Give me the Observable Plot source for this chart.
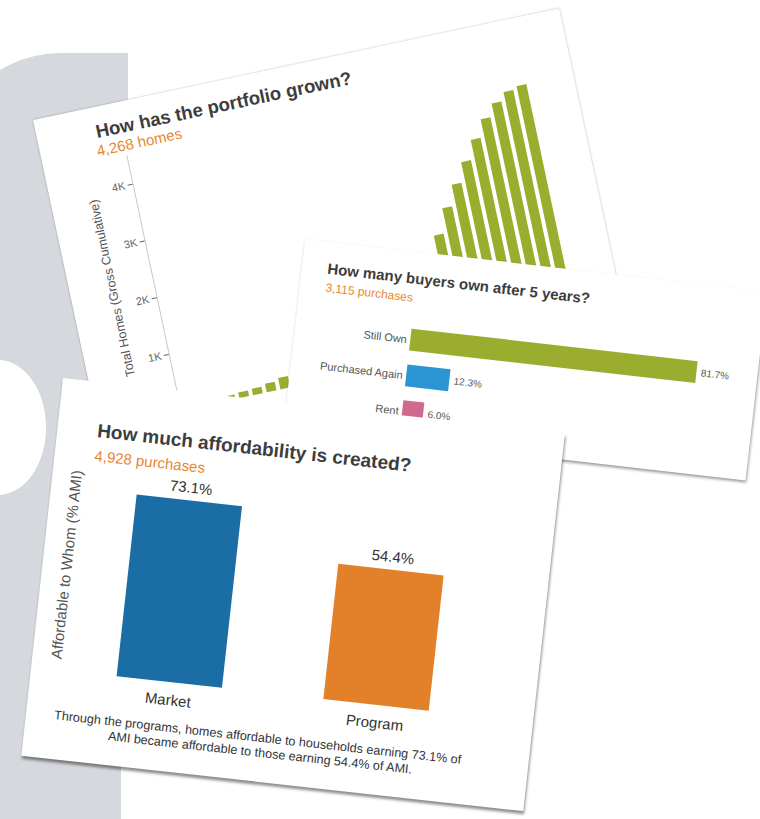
<!DOCTYPE html>
<html>
<head>
<meta charset="utf-8">
<script src="https://cdn.jsdelivr.net/npm/d3@7"></script>
<script src="https://cdn.jsdelivr.net/npm/@observablehq/plot@0.6"></script>
<style>
  html, body { margin: 0; padding: 0; background: #fff; }
  #stage { position: relative; width: 760px; height: 819px; overflow: hidden; background: #fff;
           font-family: "Liberation Sans", Arial, Helvetica, sans-serif; }
  .bgTop { position: absolute; left: -70px; top: 53px; width: 198px; height: 600px; background: #d5d8dc;
           border-top-left-radius: 130px 150px; }
  .bgBot { position: absolute; left: -10px; top: 560px; width: 131px; height: 270px; background: #d5d8dc; }
  .notch { position: absolute; left: -50px; top: 360px; width: 96px; height: 135px; border-radius: 50%; background: #fff; }
  .card { position: absolute; background: #fff; transform-origin: 0 0; }
  .txt { position: absolute; white-space: nowrap; line-height: 1; }
  .plotbox { position: absolute; left: 0; }
  .plotbox svg { overflow: visible; }
</style>
</head>
<body>
<div id="stage">
  <div class="bgTop"></div>
  <div class="bgBot"></div>
  <div class="notch"></div>

  <div class="card" id="card1" style="left:33px;top:120px;width:538px;height:350px;transform:rotate(-12deg);box-shadow:0 0 2px rgba(0,0,0,0.35);">
    <div class="txt" id="t1" style="left:59px;top:15.6px;font-size:18.5px;font-weight:bold;color:#3d3d3d;"></div>
    <div class="txt" id="s1" style="left:56px;top:36px;font-size:15px;color:#e8872f;"></div>
    <div class="plotbox" id="p1" style="top:50px;"></div>
  </div>

  <div class="card" id="card2" style="left:305px;top:239px;width:465px;height:190px;transform:rotate(6.5deg);box-shadow:1px 2px 3px rgba(0,0,0,0.4);">
    <div class="txt" id="t2" style="left:25.7px;top:18.8px;font-size:15px;font-weight:bold;color:#3d3d3d;"></div>
    <div class="txt" id="s2" style="left:26px;top:40.4px;font-size:12px;color:#e8872f;"></div>
    <div class="plotbox" id="p2" style="top:60px;"></div>
  </div>

  <div class="card" id="card3" style="left:63px;top:378px;width:505px;height:380px;transform:rotate(6.3deg);box-shadow:1px 3px 3px rgba(0,0,0,0.45);">
    <div class="txt" id="t3" style="left:40px;top:39.2px;font-size:19px;font-weight:bold;color:#3d3d3d;"></div>
    <div class="txt" id="s3" style="left:40px;top:65.5px;font-size:15px;color:#e8872f;"></div>
    <div class="plotbox" id="p3" style="top:85px;"></div>
    <div class="txt" id="cap3a" style="left:0;top:329.5px;width:466px;text-align:center;font-size:12.6px;color:#333;"></div>
    <div class="txt" id="cap3b" style="left:0;top:344.5px;width:474px;text-align:center;font-size:12.6px;color:#333;"></div>
  </div>
</div>

<script>
// ---------- Card 1: portfolio growth ----------
const portfolioTitle = "How has the portfolio grown?";
const portfolioSubtitle = "4,268 homes";
const portfolioAxisLabel = "Total Homes (Gross Cumulative)";
const portfolioYears = [1990,1991,1992,1993,1994,1995,1996,1997,1998,1999,2000,2001,2002,2003,
                        2004,2005,2006,2007,2008,2009,2010,2011,2012,2013,2014,2015,2016,2017];
const portfolioHomes = [25,50,80,100,113,150,200,270,320,380,440,520,610,720,
                        850,1000,1180,1380,1600,2044,2475,2838,3185,3526,3839,4066,4216,4268];
const portfolioTicks = [1000,2000,3000,4000];

// ---------- Card 2: ownership after 5 years ----------
const buyersTitle = "How many buyers own after 5 years?";
const buyersSubtitle = "3,115 purchases";
const outcomeLabels = ["Still Own","Purchased Again","Rent"];
const outcomePct = [81.7, 12.3, 6.0];
const outcomeColors = ["#9bad2f","#2b95d3","#cf6a8e"];

// ---------- Card 3: affordability ----------
const affordTitle = "How much affordability is created?";
const affordSubtitle = "4,928 purchases";
const affordAxisLabel = "Affordable to Whom (% AMI)";
const affordLabels = ["Market","Program"];
const affordPct = [73.1, 54.4];
const affordColors = ["#1b6ea5","#e3802a"];
const affordCaption = ["Through the programs, homes affordable to households earning 73.1% of",
                       "AMI became affordable to those earning 54.4% of AMI."];

const FONT = '"Liberation Sans", Arial, Helvetica, sans-serif';

document.getElementById("t1").textContent = portfolioTitle;
document.getElementById("s1").textContent = portfolioSubtitle;
document.getElementById("t2").textContent = buyersTitle;
document.getElementById("s2").textContent = buyersSubtitle;
document.getElementById("t3").textContent = affordTitle;
document.getElementById("s3").textContent = affordSubtitle;
document.getElementById("cap3a").textContent = affordCaption[0];
document.getElementById("cap3b").textContent = affordCaption[1];

// Card 1 plot
const portfolio = portfolioYears.map((y, i) => ({year: y, homes: portfolioHomes[i]}));
const plot1 = Plot.plot({
  width: 538, height: 290,
  marginTop: 4, marginBottom: 25, marginLeft: 84, marginRight: 30.5,
  style: {fontFamily: FONT, fontSize: "11px", background: "transparent", overflow: "visible"},
  x: {domain: portfolioYears, paddingInner: 0.26, paddingOuter: 0.4, axis: null},
  y: {domain: [0, 4500]},
  marks: [
    Plot.frame({anchor: "left", stroke: "#c8c8c8"}),
    Plot.barY(portfolio, {x: "year", y: "homes", fill: "#9bad2f"}),
    Plot.axisY({ticks: portfolioTicks, tickFormat: d => (d / 1000) + "K", tickSize: 5, tickPadding: 3,
                fontSize: 11, color: "#666", label: null}),
    Plot.text([portfolioAxisLabel], {text: d => d, frameAnchor: "left", textAnchor: "middle",
                rotate: -90, dx: -42, dy: -4, fontSize: 12.5, fill: "#555"})
  ]
});
document.getElementById("p1").appendChild(plot1);

// Card 2 plot
const outcomes = outcomeLabels.map((l, i) => ({label: l, pct: outcomePct[i]}));
const plot2 = Plot.plot({
  width: 465, height: 125,
  marginTop: 10, marginBottom: 6, marginLeft: 116, marginRight: 61,
  style: {fontFamily: FONT, fontSize: "11px", background: "transparent", overflow: "visible"},
  x: {domain: [0, 81.7], axis: null},
  y: {domain: outcomeLabels, paddingInner: 0.38, paddingOuter: 0.163},
  color: {domain: outcomeLabels, range: outcomeColors},
  marks: [
    Plot.barX(outcomes, {x: "pct", y: "label", fill: "label"}),
    Plot.text(outcomes, {x: "pct", y: "label", text: d => d.pct.toFixed(1) + "%", textAnchor: "start",
                dx: 4, fontSize: 10, fill: "#555"}),
    Plot.axisY({tickSize: 0, tickPadding: 4, fontSize: 11, color: "#555", label: null})
  ]
});
document.getElementById("p2").appendChild(plot2);

// Card 3 plot
const afford = affordLabels.map((l, i) => ({label: l, pct: affordPct[i]}));
const plot3 = Plot.plot({
  width: 505, height: 240,
  marginTop: 5.5, marginBottom: 34.5, marginLeft: 40, marginRight: 58,
  style: {fontFamily: FONT, fontSize: "15px", background: "transparent", overflow: "visible"},
  x: {domain: affordLabels, paddingInner: 0.49, paddingOuter: 0.22},
  y: {domain: [0, 80], axis: null},
  color: {domain: affordLabels, range: affordColors},
  marks: [
    Plot.barY(afford, {x: "label", y: "pct", fill: "label"}),
    Plot.text(afford, {x: "label", y: "pct", text: d => d.pct.toFixed(1) + "%", dy: -13,
                fontSize: 15, fill: "#333"}),
    Plot.axisX({tickSize: 0, tickPadding: 12, fontSize: 15, color: "#333", label: null}),
    Plot.text([affordAxisLabel], {text: d => d, frameAnchor: "left", textAnchor: "middle",
                rotate: -90, dx: -16, dy: -6, fontSize: 15, fill: "#555"})
  ]
});
document.getElementById("p3").appendChild(plot3);
</script>
</body>
</html>
